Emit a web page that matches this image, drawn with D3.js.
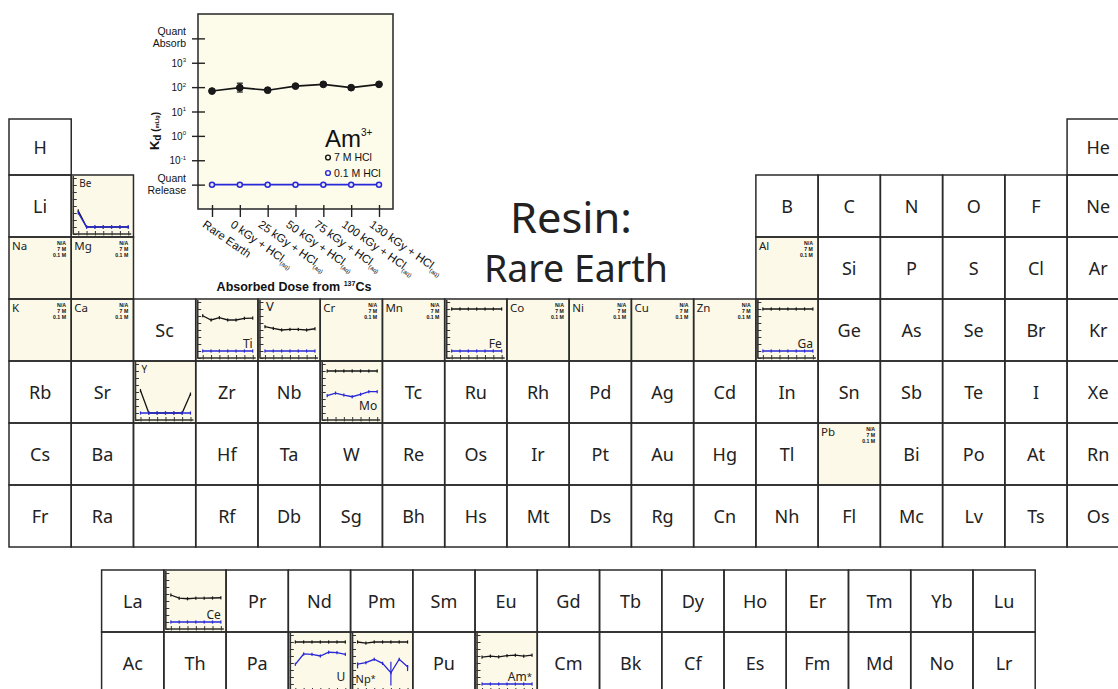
<!DOCTYPE html>
<html>
<head>
<meta charset="utf-8">
<script src="https://cdn.jsdelivr.net/npm/d3@7"></script>
<style>
body { margin: 0; background: #fff; }
svg { display: block; }
.sym { font-family: "Noto Sans", sans-serif; fill: #222; }
.ax { font-family: "Liberation Sans", Arial, sans-serif; fill: #111; }
</style>
</head>
<body>
<div id="chart"></div>
<script>
const width = 1118;
const height = 689;

// dose categories shared by every chart
const doseLabels = ["Rare Earth", "0 kGy", "25 kGy", "50 kGy", "75 kGy", "100 kGy", "130 kGy"];

// Kd levels used for "quantitative" absorb / release
const QA = 1e4;
const QR = 1e-2;

// inset chart, Am3+
const amHCl7 = [69, 95, 75, 110, 130, 95, 130];
const amHCl7Lo = [null, 63, null, null, null, null, null];
const amHCl7Hi = [null, 145, null, null, null, null, null];
const amHCl01 = [QR, QR, QR, QR, QR, QR, QR];

// small charts inside cells (7 M HCl, 0.1 M HCl)
const beHCl7 = [2, QR, QR, QR, QR, QR, QR];
const beHCl01 = [1, QR, QR, QR, QR, QR, QR];
const tiHCl7 = [1100, 270, 580, 270, 270, 470, 510];
const tiHCl01 = [QR, QR, QR, QR, QR, QR, QR];
const vHCl7 = [30, 17, 10, 12, 12, 10, 15];
const vHCl01 = [QR, QR, QR, QR, QR, QR, QR];
const feHCl7 = [QA, QA, QA, QA, QA, QA, QA];
const feHCl01 = [QR, QR, QR, QR, QR, QR, QR];
const gaHCl7 = [QA, QA, QA, QA, QA, QA, QA];
const gaHCl01 = [QR, QR, QR, QR, QR, QR, QR];
const yHCl7 = [16, QR, QR, QR, QR, QR, 5];
const yHCl01 = [QR, QR, QR, QR, QR, QR, QR];
const moHCl7 = [QA, QA, QA, QA, QA, QA, QA];
const moHCl01 = [3, 7, 3.7, 2.1, 4.7, 11, 11];
const ceHCl7 = [72, 25, 21, 25, 25, 27, 29];
const ceHCl01 = [QR, QR, QR, QR, QR, QR, QR];
const uHCl7 = [QA, QA, QA, QA, QA, QA, QA];
const uHCl01 = [6.5, 195, 175, 100, 340, 300, 175];
const npHCl7 = [QA, 7000, QA, QA, QA, QA, QA];
const npHCl01 = [7, 11, 34, 9, 0.4, 34, 3];
const npHCl01Lo = [1.7, null, null, null, 0.006, null, 0.7];
const npHCl01Hi = [11, null, null, null, 15, null, 5];
const amMiniHCl7 = amHCl7;
const amMiniHCl01 = amHCl01;

// periodic table layout (null = no cell, "" = empty cell)
const tableRows = [
    ["H", null, null, null, null, null, null, null, null, null, null, null, null, null, null, null, null, "He"],
    ["Li", "Be", null, null, null, null, null, null, null, null, null, null, "B", "C", "N", "O", "F", "Ne"],
    ["Na", "Mg", null, null, null, null, null, null, null, null, null, null, "Al", "Si", "P", "S", "Cl", "Ar"],
    ["K", "Ca", "Sc", "Ti", "V", "Cr", "Mn", "Fe", "Co", "Ni", "Cu", "Zn", "Ga", "Ge", "As", "Se", "Br", "Kr"],
    ["Rb", "Sr", "Y", "Zr", "Nb", "Mo", "Tc", "Ru", "Rh", "Pd", "Ag", "Cd", "In", "Sn", "Sb", "Te", "I", "Xe"],
    ["Cs", "Ba", "", "Hf", "Ta", "W", "Re", "Os", "Ir", "Pt", "Au", "Hg", "Tl", "Pb", "Bi", "Po", "At", "Rn"],
    ["Fr", "Ra", "", "Rf", "Db", "Sg", "Bh", "Hs", "Mt", "Ds", "Rg", "Cn", "Nh", "Fl", "Mc", "Lv", "Ts", "Os"]
];
const lanthanides = ["La", "Ce", "Pr", "Nd", "Pm", "Sm", "Eu", "Gd", "Tb", "Dy", "Ho", "Er", "Tm", "Yb", "Lu"];
const actinides = ["Ac", "Th", "Pa", "U", "Np*", "Pu", "Am*", "Cm", "Bk", "Cf", "Es", "Fm", "Md", "No", "Lr"];

// elements not measured
const naElements = ["Na", "Mg", "K", "Ca", "Cr", "Mn", "Co", "Ni", "Cu", "Zn", "Al", "Pb"];

const miniCharts = [
    { el: "Be", hcl7: beHCl7, hcl01: beHCl01, label: "tl" },
    { el: "Ti", hcl7: tiHCl7, hcl01: tiHCl01, label: "br" },
    { el: "V", hcl7: vHCl7, hcl01: vHCl01, label: "tl" },
    { el: "Fe", hcl7: feHCl7, hcl01: feHCl01, label: "br" },
    { el: "Ga", hcl7: gaHCl7, hcl01: gaHCl01, label: "br" },
    { el: "Y", hcl7: yHCl7, hcl01: yHCl01, label: "tl" },
    { el: "Mo", hcl7: moHCl7, hcl01: moHCl01, label: "br" },
    { el: "Ce", hcl7: ceHCl7, hcl01: ceHCl01, label: "br" },
    { el: "U", hcl7: uHCl7, hcl01: uHCl01, label: "br" },
    { el: "Np*", hcl7: npHCl7, hcl01: npHCl01, lo: npHCl01Lo, hi: npHCl01Hi, label: "bl" },
    { el: "Am*", hcl7: amMiniHCl7, hcl01: amMiniHCl01, label: "br" }
];

const BLUE = "#2828d8";
const BLACK = "#151515";
const BEIGE = "#fcf9e8";

const svg = d3.select("#chart")
    .append("svg")
    .attr("width", width)
    .attr("height", height);

////////////////////////////////////////////////////////
// CELL GEOMETRY
////////////////////////////////////////////////////////

const cw = 62.24;
const ch = 62;
const colX = d3.scaleLinear().domain([0, 18]).range([9, 9 + 18 * cw]);
const rowY = d3.scaleLinear().domain([0, 7]).range([113, 113 + 7 * ch]);
const fColX = d3.scaleLinear().domain([0, 15]).range([101.6, 101.6 + 15 * cw]);
const fRowY = d3.scaleLinear().domain([0, 2]).range([570, 570 + 2 * ch]);

const cells = [];
tableRows.forEach((row, r) => {
    row.forEach((s, c) => {
        if (s === null) return;
        const top = Math.max(rowY(r), 119);
        cells.push({ sym: s, x: colX(c), y: top, h: rowY(r + 1) - top });
    });
});
lanthanides.forEach((s, c) => cells.push({ sym: s, x: fColX(c), y: fRowY(0), h: ch }));
actinides.forEach((s, c) => cells.push({ sym: s, x: fColX(c), y: fRowY(1), h: ch }));

const miniMap = new Map(miniCharts.map(m => [m.el, m]));
const cellG = svg.append("g");
const borderG = svg.append("g");

////////////////////////////////////////////////////////
// MINI CHART
////////////////////////////////////////////////////////

function drawMini(g, c, spec) {
    const x0 = c.x, y0 = c.y;
    const x = d3.scalePoint().domain(doseLabels).range([x0 + 7, x0 + 57]);
    const y = d3.scaleLog().domain([1e-3, 1e5]).range([y0 + 59, y0 + 3]);

    g.append("rect")
        .attr("x", x0).attr("y", y0)
        .attr("width", cw).attr("height", c.h)
        .attr("fill", BEIGE);

    g.append("g")
        .attr("transform", `translate(${x0 + 5.5},0)`)
        .call(d3.axisLeft(y).tickValues([1e-3, 1e-2, 1e-1, 1, 10, 100, 1e3, 1e4, 1e5]).tickSize(4).tickFormat(""))
        .call(a => a.select(".domain").remove())
        .selectAll("line").attr("stroke", "#333").attr("stroke-width", 1);

    g.append("line")
        .attr("x1", x0 + 2).attr("x2", x0 + 2)
        .attr("y1", y0 + 1).attr("y2", y0 + 59)
        .attr("stroke", "#333").attr("stroke-width", 1.6);

    g.append("g")
        .attr("transform", `translate(0,${y0 + 60.5})`)
        .call(d3.axisBottom(x).tickSize(-4.5).tickFormat(""))
        .call(a => a.select(".domain").remove())
        .selectAll("line").attr("stroke", "#333").attr("stroke-width", 1);

    g.append("line")
        .attr("x1", x0 + 2).attr("x2", x0 + 60)
        .attr("y1", y0 + 59).attr("y2", y0 + 59)
        .attr("stroke", "#333").attr("stroke-width", 1.4);

    const line = d3.line()
        .x((d, i) => x(doseLabels[i]))
        .y(d => y(d));

    [[spec.hcl7, BLACK], [spec.hcl01, BLUE]].forEach(([vals, col]) => {
        g.append("path")
            .datum(vals)
            .attr("d", line)
            .attr("fill", "none")
            .attr("stroke", col)
            .attr("stroke-width", 1.3);
        g.selectAll(null)
            .data(vals)
            .enter()
            .append("rect")
            .attr("x", (d, i) => x(doseLabels[i]) - 0.6)
            .attr("y", d => y(d) - 1.6)
            .attr("width", 1.2)
            .attr("height", 3.2)
            .attr("fill", col);
    });

    if (spec.lo) {
        spec.lo.forEach((lo, i) => {
            if (lo === null) return;
            g.append("line")
                .attr("x1", x(doseLabels[i])).attr("x2", x(doseLabels[i]))
                .attr("y1", y(lo)).attr("y2", y(spec.hi[i]))
                .attr("stroke", BLUE).attr("stroke-width", 1.2);
        });
    }

    const lab = g.append("text").attr("class", "sym").text(spec.el.replace("*", ""));
    if (spec.el.includes("*")) lab.append("tspan").attr("font-size", "0.8em").attr("dy", -1).text("*");
    if (spec.label === "tl") {
        lab.attr("x", x0 + 8).attr("y", y0 + 12).attr("font-size", spec.el === "V" ? 13 : 10);
    } else if (spec.label === "bl") {
        lab.attr("x", x0 + 5).attr("y", y0 + 51).attr("font-size", 11);
    } else {
        lab.attr("x", x0 + 57).attr("y", y0 + 49).attr("text-anchor", "end").attr("font-size", 12);
    }
}

////////////////////////////////////////////////////////
// CELLS
////////////////////////////////////////////////////////

cells.forEach(c => {
    if (miniMap.has(c.sym)) {
        drawMini(cellG.append("g"), c, miniMap.get(c.sym));
    } else if (naElements.includes(c.sym)) {
        cellG.append("rect")
            .attr("x", c.x).attr("y", c.y)
            .attr("width", cw).attr("height", c.h)
            .attr("fill", BEIGE);
        cellG.append("text")
            .attr("class", "sym")
            .attr("x", c.x + 3).attr("y", c.y + 13)
            .attr("font-size", 11.5)
            .text(c.sym);
        ["N/A", "7 M", "0.1 M"].forEach((t, i) => {
            cellG.append("text")
                .attr("class", "ax")
                .attr("x", c.x + 57).attr("y", c.y + 8 + i * 5.8)
                .attr("text-anchor", "end")
                .attr("font-size", 5.2)
                .attr("font-weight", "bold")
                .attr("fill", "#333")
                .text(t);
        });
    } else if (c.sym !== "") {
        cellG.append("text")
            .attr("class", "sym")
            .attr("x", c.x + cw / 2)
            .attr("y", c.y + c.h / 2 + 6.5)
            .attr("text-anchor", "middle")
            .attr("font-size", 18)
            .text(c.sym);
    }
    borderG.append("rect")
        .attr("x", c.x).attr("y", c.y)
        .attr("width", cw).attr("height", c.h)
        .attr("fill", "none")
        .attr("stroke", "#2a2a2a")
        .attr("stroke-width", 1.5);
});

////////////////////////////////////////////////////////
// TITLE
////////////////////////////////////////////////////////

svg.append("text")
    .attr("class", "sym")
    .attr("x", 571).attr("y", 233)
    .attr("text-anchor", "middle")
    .attr("font-size", 41)
    .attr("textLength", 122)
    .attr("lengthAdjust", "spacingAndGlyphs")
    .text("Resin:");

svg.append("text")
    .attr("class", "sym")
    .attr("x", 576).attr("y", 282)
    .attr("text-anchor", "middle")
    .attr("font-size", 39)
    .attr("textLength", 184)
    .attr("lengthAdjust", "spacingAndGlyphs")
    .text("Rare Earth");

////////////////////////////////////////////////////////
// INSET CHART (Am3+)
////////////////////////////////////////////////////////

const inset = { left: 198, right: 393, top: 14, bottom: 209 };
const xI = d3.scalePoint().domain(doseLabels).range([212, 379]);
const yI = d3.scaleLog().domain([1e-3, 1e5]).range([inset.bottom, inset.top]);

svg.append("rect")
    .attr("x", inset.left).attr("y", inset.top)
    .attr("width", inset.right - inset.left)
    .attr("height", inset.bottom - inset.top)
    .attr("fill", "#fdfbea")
    .attr("stroke", "#333")
    .attr("stroke-width", 1.6);

const yTicks = [1e-2, 1e-1, 1, 10, 100, 1e3, 1e4];
svg.append("g")
    .attr("transform", `translate(${inset.left + 7},0)`)
    .call(d3.axisLeft(yI).tickValues(yTicks).tickSize(13).tickFormat(""))
    .call(a => a.select(".domain").remove())
    .selectAll("line").attr("stroke", "#222").attr("stroke-width", 1.4);

yTicks.forEach(v => {
    const ty = yI(v);
    if (v === 1e4 || v === 1e-2) {
        const lines = v === 1e4 ? ["Quant", "Absorb"] : ["Quant", "Release"];
        lines.forEach((t, i) => {
            svg.append("text").attr("class", "ax")
                .attr("x", 186).attr("y", ty - 3 + i * 12)
                .attr("text-anchor", "end").attr("font-size", 10.5)
                .attr("fill", "#333")
                .text(t);
        });
    } else {
        const t = svg.append("text").attr("class", "ax")
            .attr("x", 186).attr("y", ty + 4)
            .attr("text-anchor", "end").attr("font-size", 10)
            .attr("fill", "#333")
            .text("10");
        t.append("tspan").attr("font-size", 6).attr("dy", -4.5).text(Math.round(Math.log10(v)));
    }
});

svg.append("g")
    .attr("transform", `translate(0,${inset.bottom - 4})`)
    .call(d3.axisBottom(xI).tickSize(12).tickFormat(""))
    .call(a => a.select(".domain").remove())
    .selectAll("line").attr("stroke", "#222").attr("stroke-width", 1.4);

doseLabels.forEach(d => {
    const t = svg.append("text").attr("class", "ax")
        .attr("transform", `translate(${xI(d) - 5},${inset.bottom + 10}) rotate(35)`)
        .attr("x", 0).attr("y", 9)
        .attr("font-size", 11.5)
        .attr("fill", "#222");
    if (d === "Rare Earth") {
        t.text(d);
    } else {
        t.text(`${d} + HCl`);
        t.append("tspan").attr("font-size", 6).attr("dy", 2.5).text("(aq)");
    }
});

const axTitle = svg.append("text").attr("class", "ax")
    .attr("x", 294).attr("y", 291)
    .attr("text-anchor", "middle")
    .attr("font-size", 12.5)
    .attr("font-weight", "bold")
    .text("Absorbed Dose from ");
axTitle.append("tspan").attr("font-size", 7).attr("dy", -5).text("137");
axTitle.append("tspan").attr("dy", 5).text("Cs");

const yTitle = svg.append("text").attr("class", "ax")
    .attr("transform", "translate(159,131) rotate(-90)")
    .attr("text-anchor", "middle")
    .attr("font-size", 13)
    .attr("font-weight", "bold")
    .text("K");
yTitle.append("tspan").attr("font-size", 10).attr("dy", 2).text("d");
yTitle.append("tspan").attr("font-size", 10).attr("dy", -2).text(" (");
yTitle.append("tspan").attr("font-size", 5.5).text("mL/g");
yTitle.append("tspan").attr("font-size", 10).text(")");

// lines
const lineI = d3.line()
    .x((d, i) => xI(doseLabels[i]))
    .y(d => yI(d));

svg.append("path").datum(amHCl01).attr("d", lineI)
    .attr("fill", "none").attr("stroke", BLUE).attr("stroke-width", 1.6);
svg.append("path").datum(amHCl7).attr("d", lineI)
    .attr("fill", "none").attr("stroke", BLACK).attr("stroke-width", 1.6);

// error bars
amHCl7Lo.forEach((lo, i) => {
    if (lo === null) return;
    const cx = xI(doseLabels[i]);
    svg.append("line").attr("x1", cx).attr("x2", cx)
        .attr("y1", yI(lo)).attr("y2", yI(amHCl7Hi[i]))
        .attr("stroke", BLACK).attr("stroke-width", 1.2);
    [lo, amHCl7Hi[i]].forEach(v => {
        svg.append("line").attr("x1", cx - 3).attr("x2", cx + 3)
            .attr("y1", yI(v)).attr("y2", yI(v))
            .attr("stroke", BLACK).attr("stroke-width", 1.2);
    });
});

// points
svg.selectAll(".ptBlue")
    .data(amHCl01).enter().append("circle")
    .attr("cx", (d, i) => xI(doseLabels[i]))
    .attr("cy", d => yI(d))
    .attr("r", 2.5)
    .attr("fill", "#e8e8f8")
    .attr("stroke", BLUE).attr("stroke-width", 1.5);

svg.selectAll(".ptBlack")
    .data(amHCl7).enter().append("circle")
    .attr("cx", (d, i) => xI(doseLabels[i]))
    .attr("cy", d => yI(d))
    .attr("r", 3.4)
    .attr("fill", "#1a1a1a")
    .attr("stroke", BLACK).attr("stroke-width", 1);

// label + legend
const amLab = svg.append("text").attr("class", "ax")
    .attr("x", 325).attr("y", 147)
    .attr("font-size", 24)
    .text("Am");
amLab.append("tspan").attr("font-size", 10).attr("dy", -11).text("3+");

[["7 M HCl", BLACK], ["0.1 M HCl", BLUE]].forEach(([t, col], i) => {
    svg.append("circle")
        .attr("cx", 328).attr("cy", 157.5 + i * 15.5)
        .attr("r", 2.4)
        .attr("fill", "none")
        .attr("stroke", col).attr("stroke-width", 1.4);
    svg.append("text").attr("class", "ax")
        .attr("x", 334).attr("y", 161 + i * 15.5)
        .attr("font-size", 10.5)
        .text(t);
});
</script>
</body>
</html>
